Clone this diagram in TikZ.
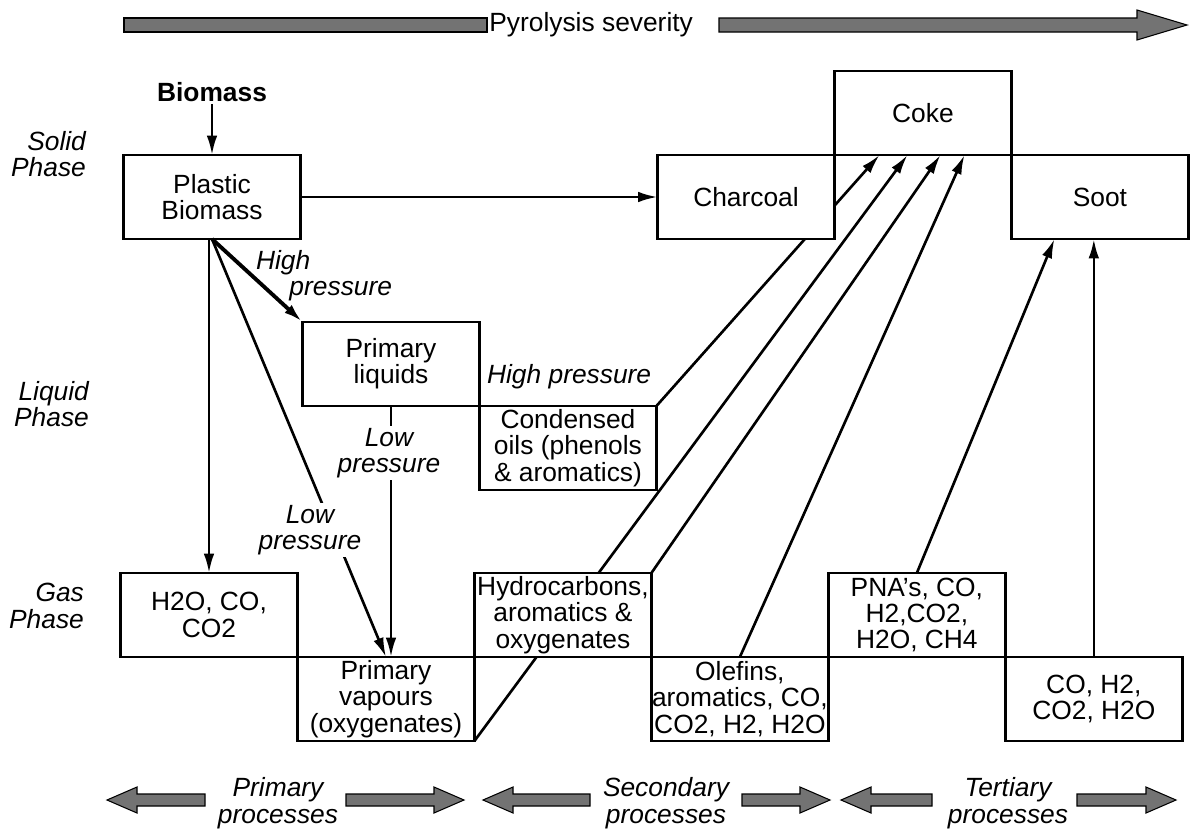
\documentclass[tikz,border=0pt]{standalone}
\usepackage{fontspec}
\setmainfont{Liberation Sans}
\usepackage{tikz}
\usetikzlibrary{arrows.meta,positioning,calc,backgrounds}
\usepackage{xcolor}
\definecolor{sevgray}{RGB}{115,115,115}
\newcommand{\pfont}{\fontsize{15}{15}\selectfont}
\tikzstyle{box} = [rectangle, draw, fill=white, line width=1.5pt, minimum width=3.54cm, minimum height=1.68cm, inner sep=0pt, outer sep=0pt, align=center]
\tikzstyle{arrow} = [line width=1.5pt, ->, >={Latex[length=11pt,width=6pt]}]
\tikzstyle{lbl} = [font=\pfont\itshape, align=center, inner sep=1pt]
\tikzstyle{fat} = [fill=sevgray, draw=black, line width=0.6pt]
% grey process arrows: from x, to x, at y
\newcommand{\fatright}[3]{\filldraw[fat] (#1,#3-6) -- (#2-30,#3-6) -- (#2-30,#3-13) -- (#2,#3) -- (#2-30,#3+13) -- (#2-30,#3+6) -- (#1,#3+6) -- cycle;}
\newcommand{\fatleft}[3]{\filldraw[fat] (#2,#3-6) -- (#1+30,#3-6) -- (#1+30,#3-13) -- (#1,#3) -- (#1+30,#3+13) -- (#1+30,#3+6) -- (#2,#3+6) -- cycle;}

\begin{document}
\begin{tikzpicture}[x=0.02cm, y=-0.02cm, font=\pfont]
\useasboundingbox (0,0) rectangle (1193,835);

% severity arrow
\filldraw[fat] (124,18) rectangle (487,32);
\node[inner sep=0pt, anchor=west] (sev) at (489,25) {Pyrolysis severity};
\filldraw[fat] (719,18) -- (1137,18) -- (1137,10) -- (1187,25) -- (1137,40) -- (1137,32) -- (719,32) -- cycle;

% phases
\node[lbl, anchor=east, align=right] (solid) at (88,154) {Solid\\Phase};
\node[lbl, anchor=east, align=right] (liquid) at (91,404) {Liquid\\Phase};
\node[lbl, anchor=east, align=right] (gas) at (86,606) {Gas\\Phase};

% solid phase
\node[font=\pfont\bfseries, inner sep=1pt] (biomass) at (212,92) {Biomass};
\node[box] (plastic) at (212,197) {Plastic\\Biomass};
\node[box] (charcoal) at (746,197) {Charcoal};
\node[box, anchor=south west] (coke) at (charcoal.north east) {Coke};
\node[box, anchor=north west] (soot) at (coke.south east) {Soot};

% liquid phase
\node[box] (liquids) at (391,364) {Primary\\liquids};
\node[box, anchor=north west] (oils) at (liquids.south east) {Condensed\\oils (phenols\\\& aromatics)};

% gas phase
\node[box] (h2o) at (209,615) {H2O, CO,\\CO2};
\node[box, anchor=north west] (vapours) at (h2o.south east) {Primary\\vapours\\(oxygenates)};
\node[box, anchor=south west] (hydro) at (vapours.north east) {Hydrocarbons,\\aromatics \&\\oxygenates};
\node[box, anchor=north west] (olefins) at (hydro.south east) {Olefins,\\aromatics, CO,\\CO2, H2, H2O};
\node[box, anchor=south west] (pna) at (olefins.north east) {PNA's, CO,\\H2,CO2,\\H2O, CH4};
\node[box, anchor=north west] (cogas) at (pna.south east) {CO, H2,\\CO2, H2O};

% lines running behind boxes and labels
\begin{scope}[on background layer]
\draw[arrow] (plastic.south) -- (vapours.north);
\draw[arrow] (liquids.south) -- (liquids.south |- vapours.north);
\draw[arrow] (oils.north east) -- ($(coke.south west)+(45,0)$);
\draw[arrow] (vapours.south east) -- ($(coke.south west)+(73,0)$);
\draw[arrow] (hydro.north east) -- ($(coke.south west)+(106,0)$);
\draw[arrow] (olefins.north) -- ($(coke.south west)+(130,0)$);
\draw[arrow] (pna.north) -- ($(soot.south west)+(43,0)$);
\draw[arrow] (cogas.north) -- (cogas.north |- soot.south);
\end{scope}

\draw[arrow] (biomass) -- (plastic);
\draw[arrow] (plastic) -- (charcoal);
\draw[arrow] (h2o.north |- plastic.south) -- (h2o.north);
\draw[arrow, line width=2.2pt] (plastic.south) -- (liquids.north west);

% pressure labels
\node[lbl, anchor=west, align=left] (hp1) at (254,276) {High\\\hspace*{19pt}pressure};
\node[lbl, anchor=west] (hp2) at (485,377) {High pressure};
\node[lbl, fill=white] (lp1) at (389,453) {Low\\pressure};
\node[lbl, fill=white] (lp2) at (310,530) {Low\\pressure};

% process arrows
\fatleft{107}{205}{800}
\node[lbl] (prim) at (278,803) {Primary\\processes};
\fatright{346}{464}{800}
\fatleft{483}{590}{800}
\node[lbl] (sec) at (666,803) {Secondary\\processes};
\fatright{742}{830}{800}
\fatleft{841}{932}{800}
\node[lbl] (tert) at (1008,803) {Tertiary\\processes};
\fatright{1077}{1176}{800}
\end{tikzpicture}
\end{document}
